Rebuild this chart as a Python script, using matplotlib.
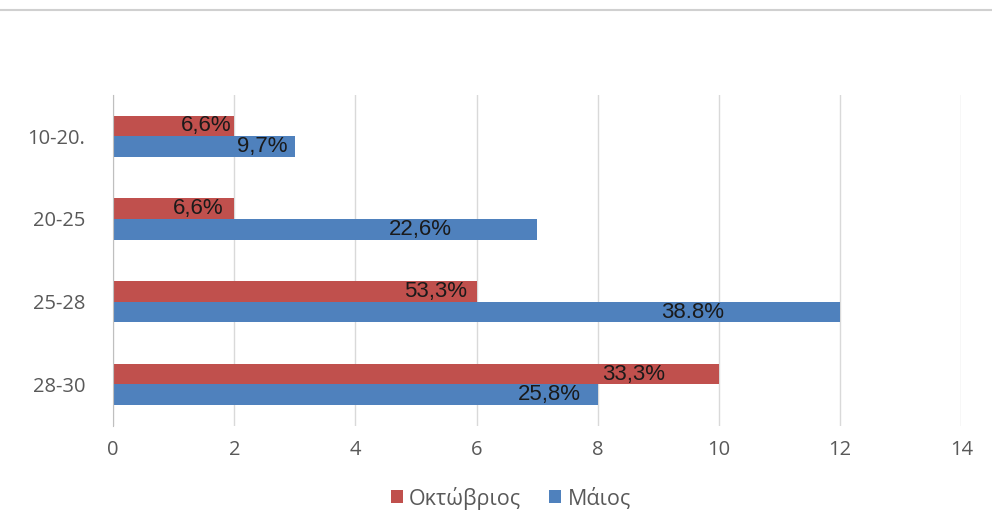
import numpy as np
import matplotlib.pyplot as plt
from matplotlib.lines import Line2D

# data
categories = ['10-20.', '20-25', '25-28', '28-30']
oct_vals = [2, 2, 6, 10]
may_vals = [3, 7, 12, 8]
oct_labels = ['6,6%', '6,6%', '53,3%', '33,3%']
may_labels = ['9,7%', '22,6%', '38.8%', '25,8%']
# where the percent labels sit (x, data units)
oct_label_x = [1.54, 1.40, 5.33, 8.59]
may_label_x = [2.46, 5.07, 9.56, 7.20]

red = '#C0504D'
blue = '#4F81BD'

plt.rcParams['font.family'] = ['Liberation Sans', 'DejaVu Sans']

fig = plt.figure(figsize=(9.92, 5.27), dpi=100)
ax = fig.add_axes([0.114, 0.192, 0.855, 0.628])

y = np.arange(len(categories))
h = 0.25
ax.barh(y - h / 2, oct_vals, height=h, color=red, label='Οκτώβριος', zorder=2)
ax.barh(y + h / 2, may_vals, height=h, color=blue, label='Μάιος', zorder=2)

for i in range(len(categories)):
    ax.text(oct_label_x[i], y[i] - h / 2, oct_labels[i], ha='center', va='center',
            fontsize=16, color='#1a1a1a', zorder=3)
    ax.text(may_label_x[i], y[i] + h / 2, may_labels[i], ha='center', va='center',
            fontsize=16, color='#1a1a1a', zorder=3)

ax.set_xlim(0, 14)
ax.set_ylim(3.5, -0.5)
ax.set_xticks(range(0, 15, 2))
ax.set_yticks(y)
ax.set_yticklabels(categories)
ax.tick_params(length=0, labelsize=14.5, labelcolor='#595959', pad=10)
ax.tick_params(axis='y', pad=20)
for t in ax.get_xticklabels() + ax.get_yticklabels():
    t.set_family(['Open Sans', 'DejaVu Sans'])
ax.grid(axis='x', color='#d9d9d9', linewidth=1, zorder=0)
for s in ['top', 'right', 'bottom']:
    ax.spines[s].set_visible(False)
ax.spines['left'].set_color('#bfbfbf')
ax.spines['left'].set_zorder(4)

leg = fig.legend(loc='center', bbox_to_anchor=(0.515, 0.055), ncol=2, frameon=False,
                 prop={'family': ['Open Sans', 'DejaVu Sans'], 'size': 15.5},
                 handlelength=0.55, handleheight=0.55, handletextpad=0.3,
                 columnspacing=1.3)
for t in leg.get_texts():
    t.set_color('#595959')

fig.add_artist(Line2D([0, 1], [0.981, 0.981], transform=fig.transFigure,
                      color='#d0d0d0', linewidth=1.5))

fig.savefig('out.png', dpi=100)
